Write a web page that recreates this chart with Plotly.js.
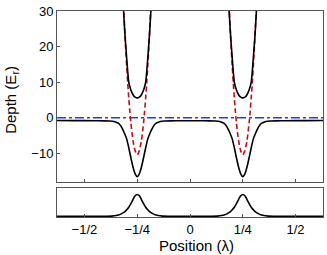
<!DOCTYPE html>
<html>
<head>
<meta charset="utf-8">
<script src="https://cdn.plot.ly/plotly-3.0.1.min.js"></script>
<style>html,body{margin:0;padding:0;background:#fff;}#plot{width:327px;height:255px;}</style>
</head>
<body>
<div id="plot"></div>
<script>
// Lower adiabatic potential (black, main panel)
const lowerX = [-0.63,-0.55,-0.45,-0.41,-0.38,-0.36,-0.35,-0.34,-0.33,-0.32,-0.31,-0.30,-0.29,-0.28,-0.27,-0.26,-0.25,-0.24,-0.23,-0.22,-0.21,-0.20,-0.19,-0.18,-0.17,-0.16,-0.15,-0.14,-0.12,-0.09,-0.05,0,
                0.05,0.09,0.12,0.14,0.15,0.16,0.17,0.18,0.19,0.20,0.21,0.22,0.23,0.24,0.25,0.26,0.27,0.28,0.29,0.30,0.31,0.32,0.33,0.34,0.35,0.36,0.38,0.41,0.45,0.55,0.63];
const lowerY = [-0.75,-0.78,-0.8,-0.85,-0.9,-1.0,-1.2,-1.5,-2.1,-3.1,-4.4,-5.9,-8.4,-11.2,-13.8,-15.7,-16.5,-15.7,-13.8,-11.2,-8.4,-5.9,-4.4,-3.1,-2.1,-1.5,-1.2,-1.0,-0.9,-0.85,-0.8,-0.8,
                -0.8,-0.85,-0.9,-1.0,-1.2,-1.5,-2.1,-3.1,-4.4,-5.9,-8.4,-11.2,-13.8,-15.7,-16.5,-15.7,-13.8,-11.2,-8.4,-5.9,-4.4,-3.1,-2.1,-1.5,-1.2,-1.0,-0.9,-0.85,-0.8,-0.78,-0.75];

// Upper adiabatic potential (black, main panel), one branch per well
const upperX = [-0.325,-0.32,-0.315,-0.31,-0.305,-0.30,-0.295,-0.29,-0.28,-0.27,-0.26,-0.25,-0.24,-0.23,-0.22,-0.21,-0.205,-0.20,-0.195,-0.19,-0.185,-0.18,-0.175,
                null,
                0.175,0.18,0.185,0.19,0.195,0.20,0.205,0.21,0.22,0.23,0.24,0.25,0.26,0.27,0.28,0.29,0.295,0.30,0.305,0.31,0.315,0.32,0.325];
const upperY = [41,35.5,30.3,25.2,20.8,16.8,13.0,10.0,7.8,6.5,5.8,5.6,5.8,6.5,7.8,10.0,13.0,16.8,20.8,25.2,30.3,35.5,41,
                null,
                41,35.5,30.3,25.2,20.8,16.8,13.0,10.0,7.8,6.5,5.8,5.6,5.8,6.5,7.8,10.0,13.0,16.8,20.8,25.2,30.3,35.5,41];

// Bare potential (red dashed)
const redX = [-0.32,-0.315,-0.31,-0.305,-0.30,-0.295,-0.29,-0.285,-0.28,-0.27,-0.26,-0.25,-0.24,-0.23,-0.22,-0.215,-0.21,-0.205,-0.20,-0.195,-0.19,-0.185,-0.18,
              null,
              0.18,0.185,0.19,0.195,0.20,0.205,0.21,0.215,0.22,0.23,0.24,0.25,0.26,0.27,0.28,0.285,0.29,0.295,0.30,0.305,0.31,0.315,0.32];
const redY = [38.6,31.8,25.6,19.8,14.6,9.8,5.6,1.8,-1.4,-6.4,-9.2,-10.4,-9.2,-6.4,-1.4,1.8,5.6,9.8,14.6,19.8,25.6,31.8,38.6,
              null,
              38.6,31.8,25.6,19.8,14.6,9.8,5.6,1.8,-1.4,-6.4,-9.2,-10.4,-9.2,-6.4,-1.4,1.8,5.6,9.8,14.6,19.8,25.6,31.8,38.6];

// Zero-energy reference (blue dash-dot)
const zeroX = [-0.63, 0.63];
const zeroY = [0, 0];

// Lower panel: density profile
const densX = [-0.63,-0.5,-0.4,-0.37,-0.35,-0.33,-0.31,-0.30,-0.29,-0.28,-0.27,-0.26,-0.25,-0.24,-0.23,-0.22,-0.21,-0.20,-0.19,-0.17,-0.15,-0.13,-0.10,0,
               0.10,0.13,0.15,0.17,0.19,0.20,0.21,0.22,0.23,0.24,0.25,0.26,0.27,0.28,0.29,0.30,0.31,0.33,0.35,0.37,0.4,0.5,0.63];
const densY = [0,0,0.006,0.012,0.035,0.09,0.2,0.3,0.42,0.58,0.77,0.94,1.0,0.94,0.77,0.58,0.42,0.3,0.2,0.09,0.035,0.012,0.006,0,
               0.006,0.012,0.035,0.09,0.2,0.3,0.42,0.58,0.77,0.94,1.0,0.94,0.77,0.58,0.42,0.3,0.2,0.09,0.035,0.012,0.006,0,0];

const tickVals = [-0.5,-0.25,0,0.25,0.5];
const tickText = ['\u22121/2','\u22121/4','0','1/4','1/2'];
const depthTicks = [-10,0,10,20,30];
const depthText = ['\u221210','0','10','20','30'];

const traces = [
  {x: zeroX, y: zeroY, xaxis:'x', yaxis:'y', mode:'lines', line:{color:'rgb(30,60,245)', width:1.5, dash:'dashdot'}, hoverinfo:'skip'},
  {x: redX, y: redY, xaxis:'x', yaxis:'y', mode:'lines', connectgaps:false, line:{color:'rgb(190,15,25)', width:1.6, dash:'5px,3px', shape:'spline', smoothing:0.6}, hoverinfo:'skip'},
  {x: lowerX, y: lowerY, xaxis:'x', yaxis:'y', mode:'lines', line:{color:'black', width:1.6, shape:'spline', smoothing:0.6}, hoverinfo:'skip'},
  {x: upperX, y: upperY, xaxis:'x', yaxis:'y', mode:'lines', connectgaps:false, line:{color:'black', width:1.6, shape:'spline', smoothing:0.6}, hoverinfo:'skip'},
  {x: densX, y: densY, xaxis:'x2', yaxis:'y2', mode:'lines', line:{color:'black', width:1.6, shape:'spline', smoothing:0.6}, hoverinfo:'skip'}
];

const axisCommon = {showgrid:false, zeroline:false, showline:true, mirror:true, linecolor:'#555', linewidth:1,
                    ticks:'inside', ticklen:3, tickcolor:'#555'};
const fontFam = 'Liberation Sans, Arial, Helvetica, sans-serif';

const layout = {
  width:327, height:255,
  margin:{l:57, r:4, t:11, b:38, pad:0},
  paper_bgcolor:'white', plot_bgcolor:'white',
  showlegend:false,
  font:{family:fontFam, size:13, color:'black'},
  xaxis: Object.assign({}, axisCommon, {domain:[0,1], anchor:'y', range:[-0.63,0.63], tickvals:tickVals, showticklabels:false}),
  yaxis: Object.assign({}, axisCommon, {domain:[0.17,1], anchor:'x', range:[-18,30], tickvals:depthTicks,
                       ticktext:depthText, tickfont:{size:13, family:fontFam, color:'black'}}),
  xaxis2: Object.assign({}, axisCommon, {domain:[0,1], anchor:'y2', range:[-0.63,0.63], tickvals:tickVals, ticktext:tickText,
                       tickfont:{size:13, family:fontFam, color:'black'}}),
  yaxis2: Object.assign({}, axisCommon, {domain:[0,0.141], anchor:'x2', range:[-0.03,1.3], ticks:'', showticklabels:false}),
  annotations:[
    {text:'Depth (E<sub>r</sub>)', xref:'paper', yref:'paper', x:-0.172, y:0.57, xanchor:'center', yanchor:'middle',
     textangle:-90, showarrow:false, font:{size:15, family:fontFam, color:'black'}},
    {text:'Position (\u03bb)', xref:'paper', yref:'paper', x:0.526, y:-0.138, xanchor:'center', yanchor:'middle',
     showarrow:false, font:{size:15, family:fontFam, color:'black'}}
  ]
};

Plotly.newPlot('plot', traces, layout, {staticPlot:true, displayModeBar:false});
</script>
</body>
</html>
